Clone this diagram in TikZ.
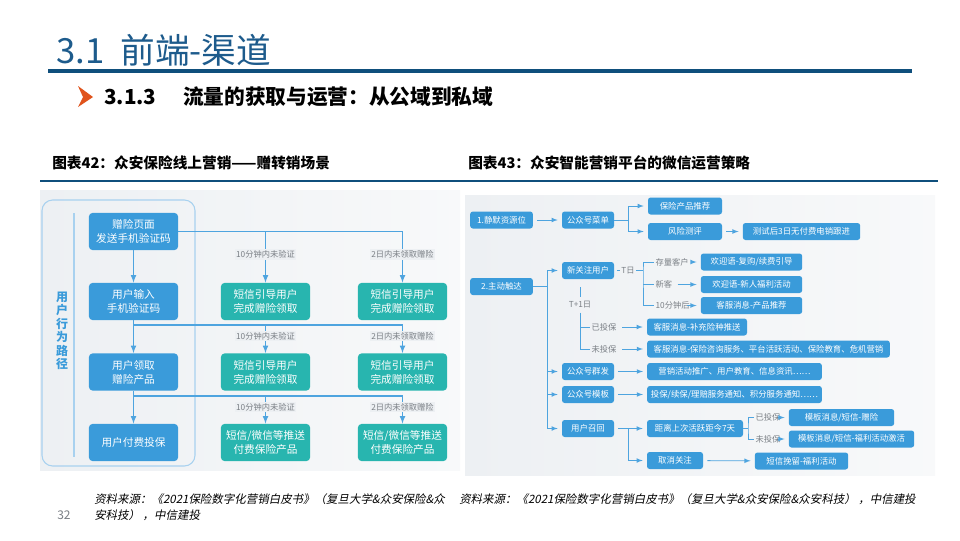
\documentclass[tikz,border=0pt]{standalone}
\usepackage{fontspec}
\setmainfont{Noto Sans CJK SC}
\newfontfamily\slantfont[FakeSlant=0.2]{Noto Sans CJK SC}
\usetikzlibrary{arrows}

\definecolor{titleblue}{HTML}{1D5B8C}
\definecolor{rulecol}{HTML}{0F4F7C}
\definecolor{boxblue}{HTML}{3A9BDA}
\definecolor{boxteal}{HTML}{28B5AF}
\definecolor{linkblue}{HTML}{4EA4DF}
\definecolor{paper}{HTML}{EDF0F3}
\definecolor{framecol}{HTML}{A8D1EF}
\definecolor{labgray}{HTML}{7A7F85}
\definecolor{markorange}{HTML}{E0531C}

\begin{document}
\begin{tikzpicture}[x=0.75pt,y=-0.75pt]
            \tikzstyle{edge}=[draw=linkblue,line width=0.9pt]
            \tikzstyle{arr}=[edge,-latex]
            \tikzstyle{redge}=[draw=linkblue,line width=0.6pt]
            \tikzstyle{rarr}=[redge,-latex,shorten >=3pt,shorten <=3pt]
            \tikzstyle{pathbox}=[rectangle,rounded corners=3pt,fill=boxblue,text=white,minimum width=67pt,minimum height=28pt,inner sep=1pt,align=center,font=\fontsize{8}{10.5}\selectfont]
            \tikzstyle{smsbox}=[pathbox,fill=boxteal]
            \tikzstyle{wxbox}=[rectangle,rounded corners=2pt,fill=boxblue,text=white,minimum height=12.75pt,inner sep=1pt,font=\fontsize{6.3}{7}\selectfont]
            \tikzstyle{lab}=[fill=paper,text=labgray,inner sep=1pt,font=\fontsize{6.2}{7}\selectfont]
            \tikzstyle{rlab}=[text=labgray,inner sep=1pt,font=\fontsize{6.2}{7}\selectfont]

            \def\xa{133.5}
            \def\xb{265.5}
            \def\xc{402.5}

            \fill[white] (0,0) rectangle (960,540);
            \useasboundingbox (0,0) rectangle (960,540);

            % heading
            \node[anchor=base west,text=titleblue,inner sep=0pt,font=\fontsize{26}{30}\selectfont] (title) at (56,63) {3.1\hspace{12pt}前端-渠道};
            \fill[rulecol] (48,69) rectangle (912,73);
            \fill[markorange] (78,86) -- (93,97) -- (78,107) -- (83,97) -- cycle;
            \node[anchor=base west,inner sep=0pt,font=\bfseries\fontsize{15.5}{18}\selectfont] (sub) at (104,104) {3.1.3\hspace{20pt}流量的获取与运营：从公域到私域};

            \node[anchor=base west,inner sep=0pt,font=\bfseries\fontsize{11}{13}\selectfont] (cap42) at (52,168) {图表42：众安保险线上营销——赠转销场景};
            \node[anchor=base west,inner sep=0pt,font=\bfseries\fontsize{11}{13}\selectfont] (cap43) at (468,168) {图表43：众安智能营销平台的微信运营策略};
            \draw[rulecol,line width=1.5pt] (40,181) -- (938,181);

            % left picture
            \shade[left color=paper,right color=paper!40!white] (40,190) rectangle (460,470);
            \draw[framecol,line width=0.8pt,rounded corners=8pt] (42,200) rectangle (195,466);
            \draw[framecol,line width=1.2pt] (74,213) -- (74,457);
            \node[text=boxblue,align=center,inner sep=0pt,font=\bfseries\fontsize{9}{10.1}\selectfont] (side) at (62,331) {用\\户\\行\\为\\路\\径};

            \node[pathbox] (b1) at (\xa,231.5) {赠险页面\\发送手机验证码};
            \node[pathbox] (b2) at (\xa,301.5) {用户输入\\手机验证码};
            \node[pathbox] (b3) at (\xa,372) {用户领取\\赠险产品};
            \node[pathbox] (b4) at (\xa,442.5) {用户付费投保};

            \node[smsbox] (s11) at (\xb,301.5) {短信引导用户\\完成赠险领取};
            \node[smsbox] (s12) at (\xc,301.5) {短信引导用户\\完成赠险领取};
            \node[smsbox] (s21) at (\xb,372) {短信引导用户\\完成赠险领取};
            \node[smsbox] (s22) at (\xc,372) {短信引导用户\\完成赠险领取};
            \node[smsbox] (s31) at (\xb,442.5) {短信/微信等推送\\付费保险产品};
            \node[smsbox] (s32) at (\xc,442.5) {短信/微信等推送\\付费保险产品};

            \coordinate (c1) at (\xc,231.5);
            \coordinate (c2) at (\xc,325);
            \coordinate (c3) at (\xc,396);

            \path[arr] (b1) -- (b2);
            \path[arr] (b2) -- (b3);
            \path[arr] (b3) -- (b4);

            \path[edge] (b1) -- (c1);
            \path[arr] (s11 |- c1) -- node[lab,pos=0.45] (l11) {10分钟内未验证} (s11);
            \path[arr] (c1) -- node[lab,pos=0.45] (l12) {2日内未领取赠险} (s12);

            \path[edge] (b2 |- c2) -- (c2);
            \path[arr] (s21 |- c2) -- node[lab,pos=0.4] (l21) {10分钟内未验证} (s21);
            \path[arr] (c2) -- node[lab,pos=0.4] (l22) {2日内未领取赠险} (s22);

            \path[edge] (b3 |- c3) -- (c3);
            \path[arr] (s31 |- c3) -- node[lab,pos=0.4] (l31) {10分钟内未验证} (s31);
            \path[arr] (c3) -- node[lab,pos=0.4] (l32) {2日内未领取赠险} (s32);

            % right picture
            \shade[left color=paper,right color=paper!40!white] (465,195) rectangle (935,475);

            \node[wxbox,minimum width=47pt] (src1) at (501.5,220) {1.静默资源位};
            \node[wxbox,minimum width=39pt] (menu) at (588,220) {公众号菜单};
            \node[wxbox,minimum width=55.5pt] (rec) at (685,206) {保险产品推荐};
            \node[wxbox,minimum width=55.5pt] (risk) at (685,231.5) {风险测评};
            \node[wxbox,minimum width=88pt] (test) at (801.5,231.5) {测试后3日无付费电销跟进};

            \node[wxbox,minimum width=47pt] (src2) at (501.5,286.5) {2.主动触达};
            \node[wxbox,minimum width=39pt] (fol) at (588,270.5) {新关注用户};
            \node[wxbox,minimum width=76pt] (w1) at (751.5,262) {欢迎语-复购/续费引导};
            \node[wxbox,minimum width=76pt] (w2) at (751.5,284.5) {欢迎语-新人福利活动};
            \node[wxbox,minimum width=76pt] (w3) at (751.5,305.5) {客服消息-产品推荐};
            \node[wxbox,minimum width=75pt] (k1) at (697,327) {客服消息-补充险种推送};
            \node[wxbox,minimum width=182pt] (k2) at (768.5,349) {客服消息-保险咨询服务、平台活跃活动、保险教育、危机营销};
            \node[wxbox,minimum width=39pt] (mass) at (588,371.5) {公众号群发};
            \node[wxbox,minimum width=131pt] (m1) at (734.5,371.5) {营销活动推广、用户教育、信息资讯……};
            \node[wxbox,minimum width=39pt] (tpl) at (588,394.5) {公众号模板};
            \node[wxbox,minimum width=131pt] (m2) at (734.5,394.5) {投保/续保/理赔服务通知、积分服务通知……};
            \node[wxbox,minimum width=39pt] (back) at (588,428.5) {用户召回};
            \node[wxbox,minimum width=72pt] (idle) at (695,428.5) {距离上次活跃距今7天};
            \node[wxbox,minimum width=42pt] (quit) at (675,460.5) {取消关注};
            \node[wxbox,minimum width=79pt] (r1) at (841.5,417.5) {模板消息/短信-赠险};
            \node[wxbox,minimum width=94pt] (r2) at (851.5,439) {模板消息/短信-福利活动激活};
            \node[wxbox,minimum width=70pt] (keep) at (801.5,461) {短信挽留-福利活动};

            \node[rlab] (tday) at (628,270.5) {T日};
            \node[rlab,anchor=west] (old) at (654,262) {存量客户};
            \node[rlab,anchor=west] (new) at (654,284.5) {新客};
            \node[rlab,anchor=west] (tenm) at (654,305.5) {10分钟后};
            \node[rlab] (tnext) at (580,305) {T+1日};
            \node[rlab,anchor=west] (paid1) at (590,327) {已投保};
            \node[rlab,anchor=west] (unpaid1) at (590,349) {未投保};
            \node[rlab,anchor=west] (paid2) at (754,417.5) {已投保};
            \node[rlab,anchor=west] (unpaid2) at (754,439) {未投保};

            \coordinate (mb) at (628,220);
            \coordinate (trunk) at (547,286.5);
            \coordinate (tb) at (643,270.5);
            \coordinate (bb) at (628,428.5);
            \coordinate (ib) at (748,428.5);

            \path[rarr] (src1) -- (menu);
            \path[redge] (menu) -- (mb);
            \path[rarr,shorten <=0pt] (mb) |- (rec);
            \path[rarr,shorten <=0pt] (mb) |- (risk);
            \path[rarr] (risk) -- (test);

            \path[redge] (src2) -- (trunk);
            \path[rarr,shorten <=0pt] (trunk) |- (fol);
            \path[rarr,shorten <=0pt] (trunk) |- (mass);
            \path[rarr,shorten <=0pt] (trunk) |- (tpl);
            \path[rarr,shorten <=0pt] (trunk) |- (back);

            \path[redge,shorten <=2pt] (fol) -- (tday);
            \path[redge] (tday) -- (tb);
            \path[redge] (old.west) -| (tb) |- (tenm.west);
            \path[redge] (tb |- new) -- (new.west);
            \path[rarr] (old) -- (w1);
            \path[rarr] (new) -- (w2);
            \path[rarr] (tenm) -- (w3);

            \path[redge,shorten <=6pt,shorten >=2pt] (fol.south -| tnext) -- (tnext);
            \path[redge,shorten <=2pt] (tnext) |- (paid1.west);
            \path[redge,shorten <=2pt] (tnext) |- (unpaid1.west);
            \path[rarr] (paid1) -- (k1);
            \path[rarr] (unpaid1) -- (k2);

            \path[rarr] (mass) -- (m1);
            \path[rarr] (tpl) -- (m2);

            \path[redge,shorten <=3pt] (back) -- (bb);
            \path[rarr,shorten <=0pt] (bb) -- (idle);
            \path[rarr,shorten <=0pt] (bb) |- (quit);
            \path[redge] (idle) -- (ib);
            \path[redge] (paid2.west) -| (ib) |- (unpaid2.west);
            \path[rarr] (paid2) -- (r1);
            \path[rarr] (unpaid2) -- (r2);
            \path[rarr] (quit) -- (keep);

            % footer
            \node[anchor=west,text=labgray,inner sep=0pt,font=\fontsize{9}{10}\selectfont] (page) at (57,515) {32};
            \node[anchor=north west,align=left,inner sep=0pt,font=\slantfont\fontsize{8.6}{12}\selectfont] (src42) at (94,493) {资料来源：《2021保险数字化营销白皮书》（复旦大学\&众安保险\&众\\安科技） ，中信建投};
            \node[anchor=north west,align=left,inner sep=0pt,font=\slantfont\fontsize{8.6}{12}\selectfont] (src43) at (459,493) {资料来源：《2021保险数字化营销白皮书》（复旦大学\&众安保险\&众安科技） ，中信建投};
\end{tikzpicture}
\end{document}
